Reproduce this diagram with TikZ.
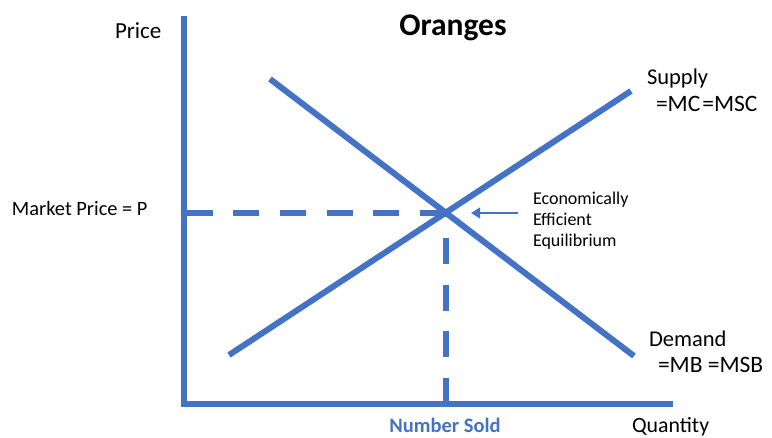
\documentclass[tikz,border=0pt]{standalone}
\usepackage{fontspec}
\setmainfont{Carlito}
\usetikzlibrary{arrows.meta}
\definecolor{lineblue}{RGB}{68,114,196}
\tikzset{
  curve/.style={draw=lineblue, line width=6pt},
  axisline/.style={draw=lineblue, line width=6pt, line join=miter},
  dashline/.style={draw=lineblue, line width=6pt, dash pattern=on 26pt off 20.7pt},
  pointer/.style={draw=lineblue, line width=2.5pt, -{Triangle[length=9pt,width=10.5pt]}},
  lbl/.style={inner sep=0pt, outer sep=0pt, anchor=base west, text=black},
}
\begin{document}
\begin{tikzpicture}[x=1pt,y=-1pt]
\useasboundingbox (0,0) rectangle (772,438);
% axes
\coordinate (ytop) at (184,16);
\coordinate (O) at (184,404);
\coordinate (xend) at (673,404);
\draw[axisline] (ytop) -- (O) -- (xend);
% curves
\coordinate (S1) at (229,355);
\coordinate (S2) at (631,91);
\coordinate (D1) at (270,79);
\coordinate (D2) at (634,356);
\draw[curve] (S1) -- (S2);
\draw[curve] (D1) -- (D2);
\coordinate (E) at (intersection of S1--S2 and D1--D2);
% dashed guides
\draw[dashline] ([xshift=2.5pt]O |- E) -- (E);
\draw[dashline] (E |- O) -- (E);
% pointer arrow
\coordinate (A1) at (518,213);
\coordinate (A2) at (471,213);
\draw[pointer] (A1) -- (A2);
% labels
\node[lbl, font=\fontsize{23}{27}\selectfont] (price) at (115,39) {Price};
\node[inner sep=0pt, anchor=base, font=\fontsize{31.5}{36}\selectfont\bfseries] (title) at (453,36) {Oranges};
\node[lbl, font=\fontsize{20.4}{24}\selectfont] (mp) at (12,216) {Market Price = P};
\node[lbl, font=\fontsize{18}{21}\selectfont] (eq1) at (533,205) {Economically};
\node[lbl, font=\fontsize{18}{21}\selectfont] (eq2) at (533,226) {Efficient};
\node[lbl, font=\fontsize{18}{21}\selectfont] (eq3) at (533,247) {Equilibrium};
\node[lbl, font=\fontsize{22.5}{26}\selectfont] (sup1) at (647,85) {Supply};
\node[lbl, font=\fontsize{23.5}{27}\selectfont] (sup2) at (656,112) {=MC\kern2pt=MSC};
\node[lbl, font=\fontsize{22.5}{26}\selectfont] (dem1) at (649,347) {Demand};
\node[lbl, font=\fontsize{23.5}{27}\selectfont] (dem2) at (658,373) {=MB =MSB};
\node[inner sep=0pt, anchor=base, text=lineblue, font=\fontsize{20.5}{24}\selectfont\bfseries] (ns) at (445,433) {Number Sold};
\node[lbl, font=\fontsize{21.8}{26}\selectfont] (qty) at (632,433) {Quantity};
\end{tikzpicture}
\end{document}
